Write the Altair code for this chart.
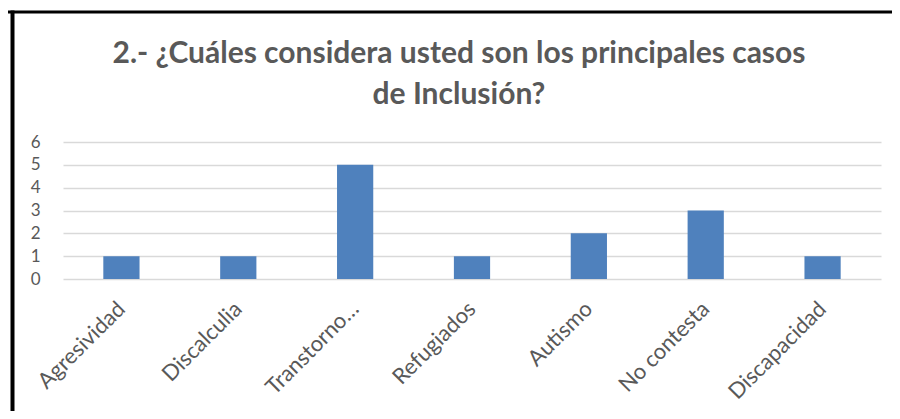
import altair as alt
import pandas as pd

categories = ["Agresividad", "Discalculia", "Transtorno…", "Refugiados",
              "Autismo", "No contesta", "Discapacidad"]
values = [1, 1, 5, 1, 2, 3, 1]
y_ticks = [0, 1, 2, 3, 4, 5, 6]
title_lines = ["2.- ¿Cuáles considera usted son los principales casos",
               "de Inclusión?"]

df = pd.DataFrame({"caso": categories, "n": values})
frame = pd.DataFrame({"edge": ["frame"]})

GRAY = "#595959"

bars = alt.Chart(df).mark_bar(color="#4F81BD").encode(
    x=alt.X(
        "caso:N", sort=categories, title=None,
        scale=alt.Scale(paddingInner=0.69, paddingOuter=0.345),
        axis=alt.Axis(labelAngle=-45, labelAlign="right", labelBaseline="middle",
                      labelPadding=26, labelFontSize=22, labelColor=GRAY,
                      labelFont="Lato", domain=False, ticks=False, grid=False,
                      labelOverlap=False, labelLimit=400),
    ),
    y=alt.Y(
        "n:Q", title=None,
        scale=alt.Scale(domain=[0, 6], nice=False),
        axis=alt.Axis(values=y_ticks, domain=False, ticks=False, grid=True,
                      gridColor="#D9D9D9", gridWidth=1.6, labelFontSize=17,
                      labelColor=GRAY, labelFont="Lato", labelPadding=23,
                      format="d"),
    ),
)

top_rule = alt.Chart(frame).mark_rule(color="black", strokeWidth=3).encode(
    x=alt.value(-56), x2=alt.value(840), y=alt.value(-130)
)
left_rule = alt.Chart(frame).mark_rule(color="black", strokeWidth=4).encode(
    x=alt.value(-50.5), y=alt.value(-131.5), y2=alt.value(275)
)

chart = alt.layer(bars, top_rule, left_rule).properties(
    width=818,
    height=137,
    padding={"left": 55, "top": 134, "right": 11, "bottom": 132},
    autosize=alt.AutoSizeParams(type="none"),
    title=alt.TitleParams(
        text=title_lines, font="Lato", fontSize=30, fontWeight="bold",
        color=GRAY, anchor="middle", dx=-13, offset=-101, lineHeight=41,
    ),
).configure_view(stroke=None)

chart.save("out.html", embed_options={"renderer": "svg", "actions": False})
